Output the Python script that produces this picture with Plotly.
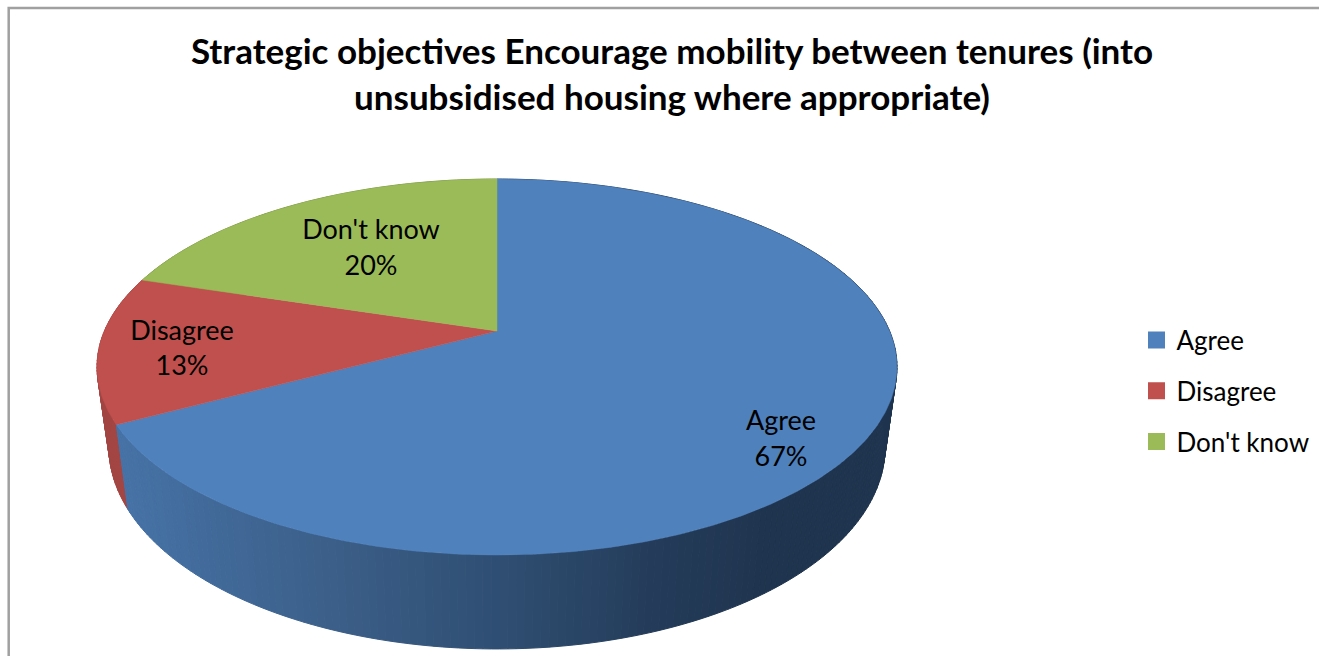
import math
import plotly.graph_objects as go

# ---- data ----
categories = ["Agree", "Disagree", "Don't know"]
shares = [67.2, 12.6, 20.2]
title_lines = ["Strategic objectives Encourage mobility between tenures (into",
               "unsubsidised housing where appropriate)"]

# ---- style ----
top_colors = ["#4f81bd", "#c0504d", "#9bbb59"]
side_stops = [(125, (0x46, 0x72, 0xa6)), (350, (0x3a, 0x5d, 0x86)), (500, (0x2f, 0x4e, 0x72)),
              (650, (0x24, 0x3c, 0x5a)), (770, (0x1f, 0x34, 0x4e))]
red_side = "#a24543"
green_side = "#7c9647"
FONT = "Lato"
TXT = "#000000"

W, H = 1319, 656
CX = 497


def proj_top(t):
    u, v = math.sin(t), math.cos(t)
    w = 1 + 0.1915 * v
    return CX + 392.6 * u / w, 331 - 181.1 * v / w


def proj_low(t):
    u, v = math.sin(t), math.cos(t)
    w = 1 + 0.19 * v
    return CX + 381 * u / w, 408.7 - 194.6 * v / w


def side_color(x):
    if x <= side_stops[0][0]:
        c = side_stops[0][1]
    elif x >= side_stops[-1][0]:
        c = side_stops[-1][1]
    else:
        for (a, ca), (b, cb) in zip(side_stops, side_stops[1:]):
            if a <= x <= b:
                f = (x - a) / (b - a)
                c = tuple(p + (q - p) * f for p, q in zip(ca, cb))
                break
    return "rgb(%d,%d,%d)" % tuple(round(p) for p in c)


fig = go.Figure()
total = sum(shares)
bounds = [0]
for s in shares:
    bounds.append(bounds[-1] + s / total * 2 * math.pi)

# side walls (back-most first, the top faces cover what is hidden)
for i in [2, 1, 0]:
    a, b = bounds[i], bounds[i + 1]
    n = max(2, int((b - a) / (2 * math.pi) * 360))
    for k in range(n):
        t0 = a + (b - a) * k / n
        t1 = a + (b - a) * (k + 1) / n
        p = [proj_top(t0), proj_top(t1), proj_low(t1), proj_low(t0), proj_top(t0)]
        xm = sum(q[0] for q in p[:4]) / 4
        col = side_color(xm) if i == 0 else (red_side if i == 1 else green_side)
        fig.add_trace(go.Scatter(x=[q[0] for q in p], y=[q[1] for q in p], mode="lines",
                                 fill="toself", fillcolor=col, line=dict(color=col, width=1),
                                 showlegend=False, hoverinfo="skip"))

# top faces
apex = (CX, 331)
for i, name in enumerate(categories):
    a, b = bounds[i], bounds[i + 1]
    n = max(2, int((b - a) / (2 * math.pi) * 720))
    pts = [proj_top(a + (b - a) * k / n) for k in range(n + 1)]
    xs = [apex[0]] + [q[0] for q in pts] + [apex[0]]
    ys = [apex[1]] + [q[1] for q in pts] + [apex[1]]
    fig.add_trace(go.Scatter(x=xs, y=ys, mode="lines", fill="toself", fillcolor=top_colors[i],
                             line=dict(color=top_colors[i], width=0.5), showlegend=False,
                             name=name, text=f"{name}: {round(shares[i])}%", hoverinfo="text"))

# data labels
label_pos = [(781, 423.5, 459), (182, 333.5, 368), (371, 232.5, 268)]
for i, name in enumerate(categories):
    x, y1, y2 = label_pos[i]
    fig.add_trace(go.Scatter(x=[x, x], y=[y1, y2], mode="text", text=[name, f"{round(shares[i])}%"],
                             textposition="middle center",
                             textfont=dict(family=FONT, size=27, color=TXT),
                             showlegend=False, hoverinfo="skip"))

# legend entries
for i, name in enumerate(categories):
    fig.add_trace(go.Scatter(x=[None], y=[None], mode="markers", name=name, legendgroup=name,
                             marker=dict(symbol="square", size=15, color=top_colors[i],
                                         line=dict(color=top_colors[i], width=2))))

fig.update_layout(
    width=W, height=H, autosize=False,
    margin=dict(l=0, r=0, t=0, b=0),
    paper_bgcolor="white", plot_bgcolor="white",
    xaxis=dict(range=[0, W], visible=False, fixedrange=True),
    yaxis=dict(range=[H, 0], visible=False, fixedrange=True),
    title=dict(text="<br>".join(title_lines), x=672 / W, xanchor="center", y=1 - 64 / H, yanchor="middle",
               font=dict(family=FONT, size=35, color=TXT, weight="bold")),
    legend=dict(x=1136.5 / W, xanchor="left", y=1 - 316.5 / H, yanchor="top", tracegroupgap=14,
                font=dict(family=FONT, size=26, color=TXT), bgcolor="rgba(0,0,0,0)", itemclick=False,
                itemdoubleclick=False),
    shapes=[dict(type="path", xref="x", yref="y", path=f"M 8.7 {H} L 8.7 8 L {W} 8",
                 line=dict(color="#a0a0a0", width=2.5), layer="above")],
)

fig.write_html("out.html", config={"displayModeBar": False},
               post_script="document.body.style.margin='0';document.documentElement.style.overflow='hidden';")
